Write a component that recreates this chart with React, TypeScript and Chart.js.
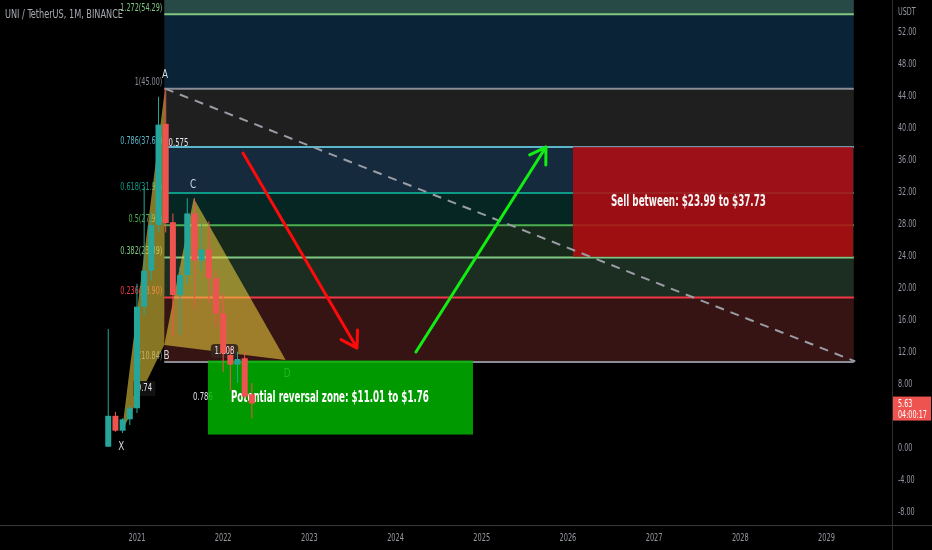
import React, { useEffect, useRef } from 'react';
import { Chart, registerables } from 'chart.js';

Chart.register(...registerables);

// ---------- data ----------
const candleMonths = [
  '2020-09', '2020-10', '2020-11', '2020-12', '2021-01', '2021-02', '2021-03',
  '2021-04', '2021-05', '2021-06', '2021-07', '2021-08', '2021-09', '2021-10',
  '2021-11', '2021-12', '2022-01', '2022-02', '2022-03', '2022-04', '2022-05',
];
const opens = [0.24, 4.1, 2.24, 3.66, 5.04, 17.74, 22.24, 27.95, 40.6, 28.3, 19.2, 21.7, 29.4, 23.5, 24.9, 21.3, 16.9, 11.7, 10.5, 11.3, 6.8];
const highs = [14.95, 4.6, 3.8, 5.4, 20.6, 32.7, 29.5, 44.0, 45.0, 29.4, 22.7, 31.3, 31.3, 28.2, 28.4, 22.3, 19.4, 12.7, 12.1, 12.1, 8.2];
const lows = [0.2, 2.1, 1.95, 2.95, 4.45, 16.7, 21.0, 27.0, 27.0, 14.0, 14.2, 20.6, 17.7, 22.3, 18.2, 15.2, 9.6, 7.3, 8.2, 6.3, 3.8];
const closes = [4.1, 2.24, 3.66, 5.04, 17.74, 22.24, 27.95, 40.5, 28.2, 19.2, 21.7, 29.4, 23.5, 24.9, 21.3, 16.9, 11.9, 10.5, 11.2, 6.5, 5.63];

const yTickValues = [-8, -4, 0, 8, 12, 16, 20, 24, 28, 32, 36, 40, 44, 48, 52];
const xTickYears = [2021, 2022, 2023, 2024, 2025, 2026, 2027, 2028, 2029];

// Fibonacci retracement (x in months since Jan 2021)
const fibRange = [3.8, 99.8];
const fibRatios = [0, 0.236, 0.382, 0.5, 0.618, 0.786, 1, 1.272, 1.414];
const fibPrices = [10.84, 18.9, 23.89, 27.92, 31.95, 37.69, 45.0, 54.29, 59.14];
const fibLineColors = ['#8a8d96', '#f23645', '#81c784', '#4caf50', '#0f9a88', '#5cb6c9', '#8a8d96', '#81c784', '#81c784'];
const fibBandColors = ['#371414', '#1c2e22', '#16281a', '#062624', '#152a3c', '#1f1f1f', '#0a2337', '#284a46'];

// XABCD pattern
const patternNames = ['X', 'A', 'B', 'C', 'D'];
const patternX = [-2.1, 3.9, 3.8, 7.9, 20.7];
const patternY = [2.1, 45.0, 12.95, 31.3, 11.07];
const letterX = [-2.2, 3.9, 4.1, 7.8, 20.9];
const letterY = [0.2, 46.7, 11.6, 32.95, 9.3];
const ratioTexts = ['0.575', '0.74', '1.108', '0.786'];
const ratioX = [5.78, 1.04, 12.18, 9.19];
const ratioY = [38.2, 7.57, 12.2, 6.45];

// trend line and arrows
const trendX = [3.9, 100];
const trendY = [45.0, 10.9];
const redArrowX = [14.76, 30.63];
const redArrowY = [36.95, 12.57];
const greenArrowX = [38.84, 56.94];
const greenArrowY = [12.07, 37.7];

// zones
const zoneX = [9.88, 46.78];
const zoneY = [1.76, 11.01];
const zoneText = 'Potential reversal zone: $11.01 to $1.76';
const sellX = [60.7, 99.7];
const sellY = [23.99, 37.73];
const sellText = 'Sell between: $23.99 to $37.73';

const titleText = 'UNI / TetherUS, 1M, BINANCE';
const lastPrice = 5.63;
const countdown = '04:00:17';

// ---------- helpers ----------
const monthIndex = (s: string) => {
  const [y, m] = s.split('-').map(Number);
  return (y - 2021) * 12 + (m - 1);
};

const FONT = "'DejaVu Sans Condensed', 'Liberation Sans', sans-serif";
const TEAL = '#26a69a';
const RED = '#ef5350';

function fitText(ctx: CanvasRenderingContext2D, text: string, x: number, y: number, width: number, align: string) {
  const w = ctx.measureText(text).width;
  const k = width / w;
  ctx.save();
  ctx.translate(x, y);
  ctx.scale(k, 1);
  ctx.textAlign = 'left';
  const ox = align === 'left' ? 0 : align === 'right' ? -w : -w / 2;
  ctx.fillText(text, ox, 0);
  ctx.restore();
}

// narrow text: horizontally condensed so that a digit is about `digitW` px wide
function narrowText(ctx: CanvasRenderingContext2D, text: string, x: number, y: number, align: string, digitW = 4.1) {
  const k = digitW / ctx.measureText('0').width;
  const w = ctx.measureText(text).width;
  ctx.save();
  ctx.translate(x, y);
  ctx.scale(k, 1);
  ctx.textAlign = 'left';
  const ox = align === 'left' ? 0 : align === 'right' ? -w : -w / 2;
  ctx.fillText(text, ox, 0);
  ctx.restore();
}

function arrow(ctx: CanvasRenderingContext2D, x1: number, y1: number, x2: number, y2: number, color: string) {
  const ang = Math.atan2(y2 - y1, x2 - x1);
  const head = 18;
  const spread = (32 * Math.PI) / 180;
  ctx.save();
  ctx.strokeStyle = color;
  ctx.lineWidth = 3;
  ctx.lineCap = 'round';
  ctx.beginPath();
  ctx.moveTo(x1, y1);
  ctx.lineTo(x2, y2);
  ctx.moveTo(x2, y2);
  ctx.lineTo(x2 - head * Math.cos(ang - spread), y2 - head * Math.sin(ang - spread));
  ctx.moveTo(x2, y2);
  ctx.lineTo(x2 - head * Math.cos(ang + spread), y2 - head * Math.sin(ang + spread));
  ctx.stroke();
  ctx.restore();
}

function roundRect(ctx: CanvasRenderingContext2D, x: number, y: number, w: number, h: number, r: number) {
  ctx.beginPath();
  ctx.moveTo(x + r, y);
  ctx.lineTo(x + w - r, y);
  ctx.quadraticCurveTo(x + w, y, x + w, y + r);
  ctx.lineTo(x + w, y + h - r);
  ctx.quadraticCurveTo(x + w, y + h, x + w - r, y + h);
  ctx.lineTo(x + r, y + h);
  ctx.quadraticCurveTo(x, y + h, x, y + h - r);
  ctx.lineTo(x, y + r);
  ctx.quadraticCurveTo(x, y, x + r, y);
  ctx.closePath();
}

const zeroPad = (s: any) => {
  s.paddingTop = 0;
  s.paddingBottom = 0;
  s.paddingLeft = 0;
  s.paddingRight = 0;
};

const overlayPlugin = {
  id: 'overlays',
  beforeDraw(chart: any) {
    const ctx = chart.ctx as CanvasRenderingContext2D;
    ctx.save();
    ctx.fillStyle = '#000000';
    ctx.fillRect(0, 0, chart.width, chart.height);
    ctx.restore();
  },
  beforeDatasetsDraw(chart: any) {
    const ctx = chart.ctx as CanvasRenderingContext2D;
    const xs = chart.scales.x;
    const ys = chart.scales.y;
    const px = (v: number) => xs.getPixelForValue(v);
    const py = (v: number) => ys.getPixelForValue(v);
    const area = chart.chartArea;
    ctx.save();
    ctx.beginPath();
    ctx.rect(area.left, area.top, area.right - area.left, area.bottom - area.top);
    ctx.clip();

    // fib bands
    const fx1 = px(fibRange[0]);
    const fx2 = px(fibRange[1]);
    for (let i = 0; i < fibBandColors.length; i++) {
      const yA = py(fibPrices[i]);
      const yB = py(fibPrices[i + 1]);
      ctx.fillStyle = fibBandColors[i];
      ctx.fillRect(fx1, yB, fx2 - fx1, yA - yB);
    }
    // fib lines
    ctx.lineWidth = 2;
    for (let i = 0; i < fibPrices.length; i++) {
      const y = py(fibPrices[i]);
      ctx.strokeStyle = fibLineColors[i];
      ctx.beginPath();
      ctx.moveTo(fx1, y);
      ctx.lineTo(fx2, y);
      ctx.stroke();
    }
    // fib labels
    ctx.font = `11px ${FONT}`;
    ctx.textBaseline = 'middle';
    for (let i = 0; i < fibPrices.length; i++) {
      ctx.fillStyle = fibLineColors[i];
      narrowText(ctx, `${fibRatios[i]}(${fibPrices[i].toFixed(2)})`, fx1 - 2, py(fibPrices[i]) - 6, 'right', 4.1);
    }

    // pattern letters
    ctx.font = `12px ${FONT}`;
    for (let i = 0; i < patternNames.length; i++) {
      ctx.fillStyle = '#d1d4dc';
      narrowText(ctx, patternNames[i], px(letterX[i]), py(letterY[i]), 'center', 5.6);
    }

    // pattern fills
    ctx.fillStyle = 'rgba(238, 208, 62, 0.57)';
    const P = (i: number) => [px(patternX[i]), py(patternY[i])];
    const tri = (a: number, b: number, c: number) => {
      ctx.beginPath();
      ctx.moveTo(P(a)[0], P(a)[1]);
      ctx.lineTo(P(b)[0], P(b)[1]);
      ctx.lineTo(P(c)[0], P(c)[1]);
      ctx.closePath();
      ctx.fill();
    };
    tri(0, 1, 2);
    tri(2, 3, 4);

    // ratio labels
    ctx.font = `11px ${FONT}`;
    for (let i = 0; i < ratioTexts.length; i++) {
      const x = px(ratioX[i]);
      const y = py(ratioY[i]);
      const w = ratioTexts[i].length * 3.9;
      if (ratioTexts[i] === '0.74') {
        ctx.fillStyle = 'rgba(18,18,18,0.92)';
        ctx.fillRect(x - w / 2 - 3, y - 7, w + 6, 15);
      } else if (ratioTexts[i] === '1.108') {
        ctx.fillStyle = 'rgba(52,36,28,0.9)';
        roundRect(ctx, x - w / 2 - 4, y - 7, w + 8, 14, 4);
        ctx.fill();
      }
      ctx.fillStyle = '#e0e3ea';
      narrowText(ctx, ratioTexts[i], x, y, 'center', 4.4);
    }

    // reversal zone
    const zx1 = px(zoneX[0]);
    const zx2 = px(zoneX[1]);
    const zy1 = py(zoneY[1]);
    const zy2 = py(zoneY[0]);
    ctx.fillStyle = 'rgba(0, 180, 0, 0.85)';
    ctx.fillRect(zx1, zy1, zx2 - zx1, zy2 - zy1);
    ctx.fillStyle = '#ffffff';
    ctx.font = `bold 15px ${FONT}`;
    ctx.textBaseline = 'middle';
    fitText(ctx, zoneText, zx1 + 23, (zy1 + zy2) / 2 + 1, 198, 'left');

    // sell zone
    const sx1 = px(sellX[0]);
    const sx2 = px(sellX[1]);
    const sy1 = py(sellY[1]);
    const sy2 = py(sellY[0]);
    ctx.fillStyle = 'rgba(180, 12, 18, 0.86)';
    ctx.fillRect(sx1, sy1, sx2 - sx1, sy2 - sy1);
    ctx.fillStyle = '#f4f4f4';
    ctx.font = `bold 15px ${FONT}`;
    fitText(ctx, sellText, sx1 + 38, (sy1 + sy2) / 2, 155, 'left');

    // trend dashed line
    ctx.save();
    ctx.strokeStyle = '#9a9da6';
    ctx.lineWidth = 2;
    ctx.setLineDash([9, 7]);
    ctx.beginPath();
    ctx.moveTo(px(trendX[0]), py(trendY[0]));
    ctx.lineTo(px(trendX[1]), py(trendY[1]));
    ctx.stroke();
    ctx.restore();

    // arrows
    arrow(ctx, px(redArrowX[0]), py(redArrowY[0]), px(redArrowX[1]), py(redArrowY[1]), '#ff0a0a');
    arrow(ctx, px(greenArrowX[0]), py(greenArrowY[0]), px(greenArrowX[1]), py(greenArrowY[1]), '#11ee11');

    ctx.restore();
  },
  afterDraw(chart: any) {
    const ctx = chart.ctx as CanvasRenderingContext2D;
    const xs = chart.scales.x;
    const ys = chart.scales.y;
    const area = chart.chartArea;
    ctx.save();
    // separators
    ctx.strokeStyle = '#3a3a3a';
    ctx.lineWidth = 1;
    ctx.beginPath();
    ctx.moveTo(0, area.bottom + 0.5);
    ctx.lineTo(chart.width, area.bottom + 0.5);
    ctx.stroke();
    ctx.strokeStyle = '#2e2e2e';
    ctx.beginPath();
    ctx.moveTo(area.right + 0.5, 0);
    ctx.lineTo(area.right + 0.5, chart.height);
    ctx.stroke();

    // axis tick labels (positions from the chart's scales)
    ctx.font = `11px ${FONT}`;
    ctx.textBaseline = 'middle';
    ctx.fillStyle = '#9598a1';
    for (const t of ys.ticks) {
      narrowText(ctx, Number(t.value).toFixed(2), area.right + 6, ys.getPixelForValue(t.value), 'left', 4.1);
    }
    for (const t of xs.ticks) {
      narrowText(ctx, String(2021 + Math.round(Number(t.value) / 12)), xs.getPixelForValue(t.value), area.bottom + 13, 'center', 4.2);
    }

    // title
    ctx.fillStyle = '#a8abb2';
    ctx.font = `12px ${FONT}`;
    fitText(ctx, titleText, 5, 15, 118, 'left');

    // USDT
    ctx.fillStyle = '#9598a1';
    ctx.font = `11px ${FONT}`;
    narrowText(ctx, 'USDT', area.right + 6, 12, 'left', 4.1);

    // last price label
    const yp = ys.getPixelForValue(lastPrice);
    ctx.fillStyle = '#ef5350';
    ctx.fillRect(area.right + 1, yp - 7, 38, 24);
    ctx.fillStyle = '#ffffff';
    ctx.font = `11px ${FONT}`;
    narrowText(ctx, lastPrice.toFixed(2), area.right + 6, yp + 0.5, 'left', 4.1);
    narrowText(ctx, countdown, area.right + 6, yp + 12, 'left', 4.1);
    ctx.restore();
  },
};

export default function App() {
  const ref = useRef<HTMLCanvasElement | null>(null);

  useEffect(() => {
    if (!ref.current) return;
    const xs = candleMonths.map(monthIndex);
    const colors = opens.map((o, i) => (closes[i] >= o ? TEAL : RED));
    const chart = new Chart(ref.current, {
      type: 'bar',
      data: {
        datasets: [
          {
            label: 'wicks',
            data: xs.map((x, i) => ({ x, y: [lows[i], highs[i]] })) as any,
            backgroundColor: colors,
            barThickness: 1,
            grouped: false,
            inflateAmount: 0,
            borderWidth: 0,
            order: 2,
          } as any,
          {
            label: 'bodies',
            data: xs.map((x, i) => ({ x, y: [opens[i], closes[i]] })) as any,
            backgroundColor: colors,
            barThickness: 6,
            grouped: false,
            inflateAmount: 0,
            borderWidth: 0,
            order: 1,
          } as any,
        ],
      },
      options: {
        animation: false,
        responsive: false,
        maintainAspectRatio: false,
        layout: { padding: 0 },
        plugins: { legend: { display: false }, tooltip: { enabled: false } },
        scales: {
          x: {
            type: 'linear',
            offset: false,
            min: -19.07,
            max: 105.12,
            grid: { display: false, drawTicks: false, offset: false },
            border: { display: false },
            afterBuildTicks: (s: any) => {
              s.ticks = xTickYears.map((y) => ({ value: (y - 2021) * 12 }));
            },
            afterFit: (s: any) => {
              s.height = 25;
              zeroPad(s);
            },
            ticks: { display: false, autoSkip: false, maxRotation: 0 },
          },
          y: {
            type: 'linear',
            position: 'right',
            min: -9.55,
            max: 56.08,
            grid: { display: false, drawTicks: false },
            border: { display: false },
            afterBuildTicks: (s: any) => {
              s.ticks = yTickValues.map((v) => ({ value: v }));
            },
            afterFit: (s: any) => {
              s.width = 40;
              zeroPad(s);
            },
            ticks: { display: false },
          },
        },
      } as any,
      plugins: [overlayPlugin],
    });
    return () => chart.destroy();
  }, []);

  return (
    <div style={{ position: 'fixed', left: 0, top: 0, width: 932, height: 550, background: '#000' }}>
      <canvas ref={ref} width={932} height={550} style={{ display: 'block' }} />
    </div>
  );
}
